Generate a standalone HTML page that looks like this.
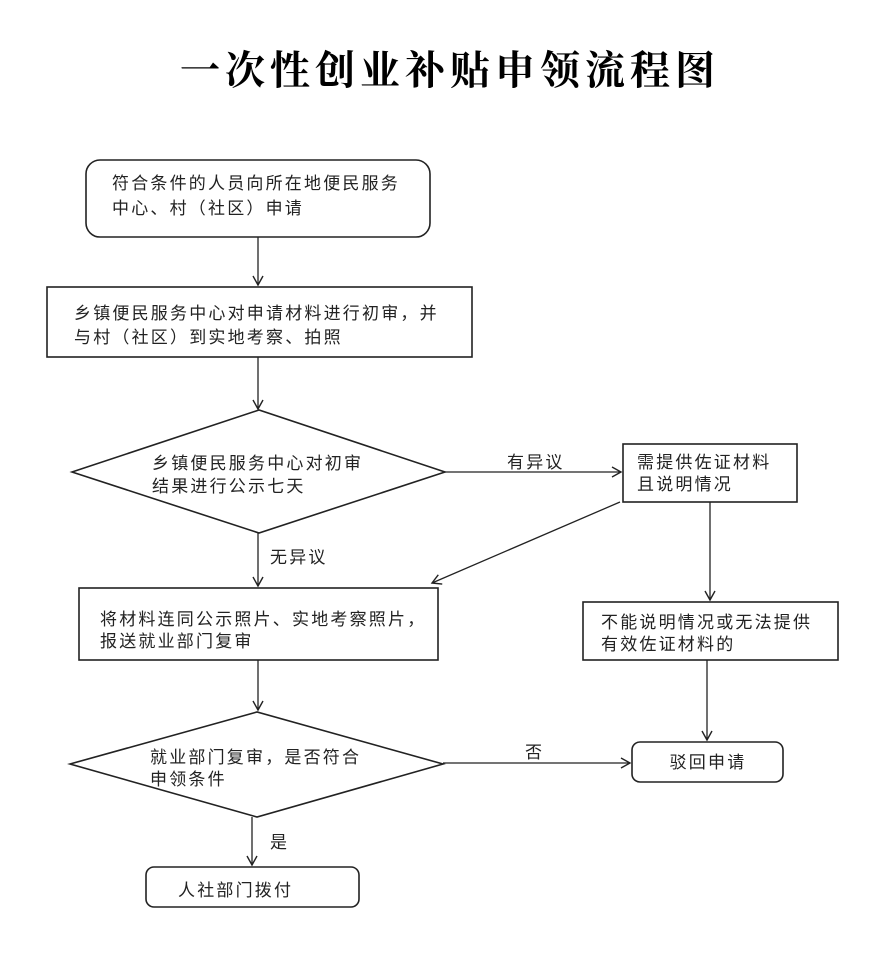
<!DOCTYPE html>
<html><head><meta charset="utf-8"><style>
body{margin:0;background:#fff;}
svg text{font-family:"Liberation Sans","Noto Sans CJK SC",sans-serif;font-size:17px;fill:#222;letter-spacing:2.2px;}
</style></head><body>
<svg width="887" height="948" viewBox="0 0 887 948" xmlns="http://www.w3.org/2000/svg">
<defs><marker id="a" markerWidth="12" markerHeight="12" refX="10" refY="6" orient="auto" markerUnits="userSpaceOnUse"><path d="M1,1 L10,6 L1,11" fill="none" stroke="#222" stroke-width="1.4"/></marker></defs>
<text x="450" y="84" text-anchor="middle" style="font-family:'Noto Serif CJK SC',serif;font-size:40px;font-weight:bold;fill:#000;letter-spacing:5px">一次性创业补贴申领流程图</text>
<g fill="none" stroke="#222" stroke-width="1.6">
<rect x="86" y="160" width="344" height="77" rx="14"/>
<rect x="47" y="287" width="425" height="70"/>
<polygon points="72,472 259,410 445,472 259,533"/>
<rect x="623" y="444" width="174" height="58"/>
<rect x="79" y="588" width="359" height="72"/>
<rect x="583" y="602" width="255" height="58"/>
<polygon points="70,764 257,712 443,764 257,817"/>
<rect x="632" y="742" width="151" height="40" rx="8"/>
<rect x="146" y="867" width="213" height="40" rx="8"/>
<g stroke-width="1.3" marker-end="url(#a)">
<line x1="258" y1="237" x2="258" y2="285"/>
<line x1="258" y1="357" x2="258" y2="409"/>
<line x1="445" y1="472" x2="621" y2="472"/>
<line x1="620" y1="502" x2="432" y2="583"/>
<line x1="710" y1="502" x2="710" y2="600"/>
<line x1="258" y1="533" x2="258" y2="586"/>
<line x1="258" y1="660" x2="258" y2="710"/>
<line x1="707" y1="660" x2="707" y2="740"/>
<line x1="443" y1="763" x2="630" y2="763"/>
<line x1="252" y1="817" x2="252" y2="865"/>
</g></g>
<text x="112" y="189">符合条件的人员向所在地便民服务</text>
<text x="112" y="214">中心、村（社区）申请</text>
<text x="74" y="319">乡镇便民服务中心对申请材料进行初审，并</text>
<text x="74" y="343">与村（社区）到实地考察、拍照</text>
<text x="152" y="469">乡镇便民服务中心对初审</text>
<text x="152" y="492">结果进行公示七天</text>
<text x="507" y="468">有异议</text>
<text x="637" y="468">需提供佐证材料</text>
<text x="637" y="490">且说明情况</text>
<text x="270" y="563">无异议</text>
<text x="100" y="625">将材料连同公示照片、实地考察照片，</text>
<text x="100" y="647">报送就业部门复审</text>
<text x="601" y="628">不能说明情况或无法提供</text>
<text x="601" y="650">有效佐证材料的</text>
<text x="150" y="763">就业部门复审，是否符合</text>
<text x="150" y="785">申领条件</text>
<text x="525" y="758">否</text>
<text x="708" y="768" text-anchor="middle">驳回申请</text>
<text x="270" y="848">是</text>
<text x="178" y="896">人社部门拨付</text>
</svg>
</body></html>
